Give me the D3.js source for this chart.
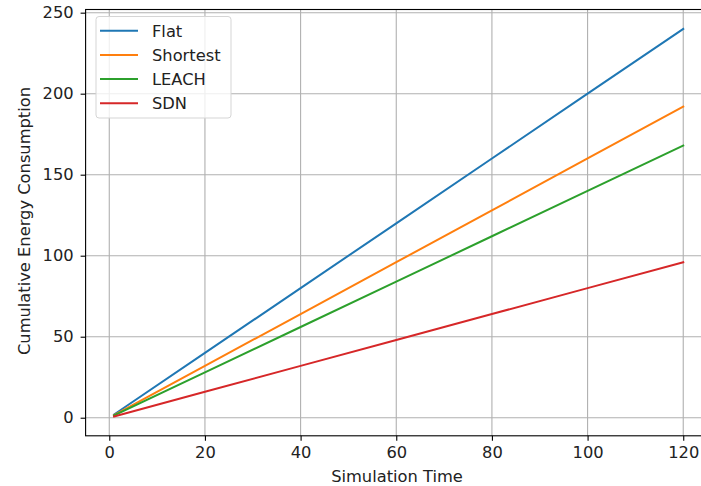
<!DOCTYPE html>
<html><head><meta charset="utf-8">
<script src="https://cdn.jsdelivr.net/npm/d3@7"></script>
<style>body{margin:0;background:#fff;} svg{display:block;font-family:"DejaVu Sans",sans-serif;}</style>
</head><body>
<svg id="c" width="701" height="486"></svg>
<script>
const times = [1, 20, 40, 60, 80, 100, 120];
const flat = [2, 40, 80, 120, 160, 200, 240];
const shortest = [1.6, 32, 64, 96, 128, 160, 192];
const leach = [1.4, 28, 56, 84, 112, 140, 168];
const sdn = [0.8, 16, 32, 48, 64, 80, 96];
const seriesNames = ["Flat", "Shortest", "LEACH", "SDN"];
const colors = ["#1f77b4", "#ff7f0e", "#2ca02c", "#d62728"];
const xTicks = [0, 20, 40, 60, 80, 100, 120];
const yTicks = [0, 50, 100, 150, 200, 250];

const seriesVals = [flat, shortest, leach, sdn];
const FS = "16.3px";
const svg = d3.select("#c");
const L = 85.6, R = 711.7, T = 9.5, B = 435.8;
const x = d3.scaleLinear().domain([-4.95, 125.95]).range([L, R]);
const y = d3.scaleLinear().domain([-11.16, 251.96]).range([B, T]);

// grid
svg.append("g").selectAll("line").data(xTicks).join("line")
  .attr("x1", d => x(d)).attr("x2", d => x(d)).attr("y1", T).attr("y2", B)
  .attr("stroke", "#b0b0b0").attr("stroke-width", 1.1);
svg.append("g").selectAll("line").data(yTicks).join("line")
  .attr("x1", L).attr("x2", R).attr("y1", d => y(d)).attr("y2", d => y(d))
  .attr("stroke", "#b0b0b0").attr("stroke-width", 1.1);

// lines
const line = d3.line().x((d, i) => x(times[i])).y(d => y(d));
seriesVals.forEach((s, k) => {
  svg.append("path").datum(s).attr("d", line).attr("fill", "none")
    .attr("stroke", colors[k]).attr("stroke-width", 2).attr("stroke-linecap", "square");
});

// spines
svg.append("rect").attr("x", L).attr("y", T).attr("width", R - L).attr("height", B - T)
  .attr("fill", "none").attr("stroke", "#000").attr("stroke-width", 1.1);

// axes
const xa = svg.append("g").attr("transform", `translate(0,${B})`)
  .call(d3.axisBottom(x).tickValues(xTicks).tickSize(5).tickPadding(6).tickFormat(d3.format("d")));
const ya = svg.append("g").attr("transform", `translate(${L},0)`)
  .call(d3.axisLeft(y).tickValues(yTicks).tickSize(5).tickPadding(7).tickFormat(d3.format("d")));
[xa, ya].forEach(a => {
  a.select(".domain").remove();
  a.selectAll(".tick line").attr("stroke", "#000").attr("stroke-width", 1.1);
  a.selectAll(".tick text").attr("fill", "#222").style("font-size", FS).style("font-family", "DejaVu Sans");
});

// axis labels
svg.append("text").attr("x", 397).attr("y", 482).attr("text-anchor", "middle")
  .style("font-size", FS).attr("fill", "#222").text("Simulation Time");
svg.append("text").attr("transform", `translate(30,${(89 + 353) / 2}) rotate(-90)`).attr("text-anchor", "middle")
  .style("font-size", FS).attr("fill", "#222").text("Cumulative Energy Consumption");

// legend
const lg = svg.append("g");
lg.append("rect").attr("x", 96).attr("y", 16.5).attr("width", 135).attr("height", 101.5).attr("rx", 3)
  .attr("fill", "#fff").attr("fill-opacity", 0.8).attr("stroke", "#d5d5d5").attr("stroke-width", 1);
seriesNames.forEach((n, i) => {
  const yy = 30.7 + i * 24.2;
  lg.append("line").attr("x1", 100).attr("x2", 138).attr("y1", yy).attr("y2", yy)
    .attr("stroke", colors[i]).attr("stroke-width", 2);
  lg.append("text").attr("x", 152).attr("y", yy + 6).style("font-size", FS).attr("fill", "#222").text(n);
});
</script>
</body></html>
